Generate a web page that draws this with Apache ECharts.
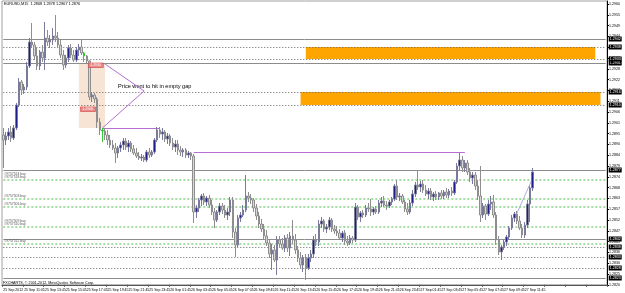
<!DOCTYPE html>
<html><head><meta charset="utf-8">
<script src="https://cdn.jsdelivr.net/npm/echarts@6/dist/echarts.min.js"></script>
<style>html,body{margin:0;padding:0;background:#fff}#c{width:625px;height:293px}</style>
</head><body><div id="c"></div>
<script>
const titleText = 'EURUSD,M15  1.2868 1.2878 1.2867 1.2876';
const copyright = 'FXCHARTS, \u00a9 2001-2012, MetaQuotes Software Corp.';
const tickLabels = ['25 Sep 2012','25 Sep 11:45','25 Sep 13:45','25 Sep 15:45','25 Sep 17:45','25 Sep 19:45','25 Sep 21:45','25 Sep 23:45','26 Sep 01:45','26 Sep 03:45','26 Sep 05:45','26 Sep 07:45','26 Sep 09:45','26 Sep 11:45','26 Sep 13:45','26 Sep 15:45','26 Sep 17:45','26 Sep 19:45','26 Sep 21:45','26 Sep 23:45','27 Sep 01:45','27 Sep 03:45','27 Sep 05:45','27 Sep 07:45','27 Sep 09:45','27 Sep 11:45'];
const totalSlots = 232;
// [open, close, low, high]
const ohlc = [
[1.28945,1.28920,1.28780,1.28980],[1.28920,1.28940,1.28895,1.28960],[1.28940,1.28960,1.28920,1.28980],[1.28960,1.28930,1.28910,1.28990],
[1.28930,1.28980,1.28920,1.28995],[1.28980,1.29095,1.28970,1.29105],[1.29095,1.29210,1.29085,1.29230],[1.29210,1.29170,1.29145,1.29220],
[1.29170,1.29185,1.29150,1.29200],[1.29185,1.29290,1.29170,1.29310],[1.29290,1.29410,1.29280,1.29430],[1.29410,1.29395,1.29380,1.29505],
[1.29395,1.29340,1.29320,1.29410],[1.29340,1.29290,1.29270,1.29380],[1.29290,1.29360,1.29270,1.29370],[1.29360,1.29330,1.29310,1.29395],
[1.29330,1.29430,1.29270,1.29510],[1.29430,1.29410,1.29390,1.29470],[1.29410,1.29420,1.29380,1.29445],[1.29420,1.29440,1.29395,1.29480],
[1.29440,1.29430,1.29410,1.29545],[1.29430,1.29395,1.29380,1.29460],[1.29395,1.29345,1.29330,1.29420],[1.29345,1.29295,1.29270,1.29370],
[1.29295,1.29330,1.29280,1.29345],[1.29330,1.29380,1.29310,1.29395],[1.29380,1.29345,1.29330,1.29400],[1.29345,1.29320,1.29310,1.29370],
[1.29320,1.29370,1.29310,1.29385],[1.29370,1.29385,1.29340,1.29400],[1.29385,1.29355,1.29345,1.29425],[1.29355,1.29340,1.29310,1.29360],
[1.29340,1.29315,1.29305,1.29345],[1.29315,1.29135,1.29120,1.29320],[1.29135,1.29145,1.29110,1.29160],[1.29145,1.29125,1.29105,1.29155],
[1.29125,1.29010,1.28980,1.29135],[1.29010,1.28970,1.28945,1.29030],[1.28970,1.28965,1.28910,1.28980],[1.28965,1.28945,1.28920,1.28980],
[1.28945,1.28920,1.28895,1.28970],[1.28920,1.28895,1.28880,1.28945],[1.28895,1.28880,1.28870,1.28920],[1.28880,1.28855,1.28805,1.28905],
[1.28855,1.28880,1.28830,1.28890],[1.28880,1.28895,1.28860,1.28910],[1.28895,1.28915,1.28870,1.28930],[1.28915,1.28885,1.28870,1.28930],
[1.28885,1.28905,1.28860,1.28920],[1.28905,1.28875,1.28860,1.28915],[1.28875,1.28855,1.28845,1.28895],[1.28855,1.28840,1.28830,1.28880],
[1.28840,1.28830,1.28820,1.28860],[1.28830,1.28835,1.28815,1.28850],[1.28835,1.28820,1.28810,1.28845],[1.28820,1.28860,1.28810,1.28870],
[1.28860,1.28845,1.28830,1.28880],[1.28845,1.28860,1.28835,1.28870],[1.28860,1.28920,1.28850,1.28930],[1.28920,1.28970,1.28910,1.28985],
[1.28970,1.28950,1.28930,1.28985],[1.28950,1.28960,1.28920,1.28980],[1.28960,1.28925,1.28910,1.28970],[1.28925,1.28940,1.28900,1.28955],
[1.28940,1.28905,1.28890,1.28950],[1.28905,1.28885,1.28870,1.28930],[1.28885,1.28900,1.28860,1.28920],[1.28900,1.28870,1.28845,1.28920],
[1.28870,1.28860,1.28840,1.28890],[1.28860,1.28870,1.28835,1.28880],[1.28870,1.28845,1.28830,1.28880],[1.28845,1.28855,1.28830,1.28865],
[1.28855,1.28840,1.28820,1.28860],[1.28840,1.28560,1.28505,1.28850],[1.28560,1.28580,1.28530,1.28595],[1.28580,1.28620,1.28560,1.28630],
[1.28620,1.28640,1.28590,1.28650],[1.28640,1.28610,1.28595,1.28655],[1.28610,1.28630,1.28590,1.28640],[1.28630,1.28595,1.28580,1.28645],
[1.28595,1.28560,1.28545,1.28620],[1.28560,1.28520,1.28480,1.28580],[1.28520,1.28560,1.28510,1.28570],[1.28560,1.28590,1.28545,1.28605],
[1.28590,1.28570,1.28550,1.28605],[1.28570,1.28545,1.28530,1.28595],[1.28545,1.28560,1.28520,1.28580],[1.28560,1.28620,1.28540,1.28635],
[1.28620,1.28460,1.28430,1.28635],[1.28460,1.28395,1.28335,1.28480],[1.28395,1.28530,1.28385,1.28545],[1.28530,1.28545,1.28510,1.28560],
[1.28545,1.28570,1.28535,1.28595],[1.28570,1.28640,1.28560,1.28745],[1.28640,1.28630,1.28610,1.28660],[1.28630,1.28620,1.28600,1.28650],
[1.28620,1.28580,1.28560,1.28630],[1.28580,1.28540,1.28520,1.28600],[1.28540,1.28500,1.28480,1.28560],[1.28500,1.28475,1.28460,1.28525],
[1.28475,1.28440,1.28420,1.28500],[1.28440,1.28405,1.28390,1.28470],[1.28405,1.28350,1.28330,1.28420],[1.28350,1.28370,1.28270,1.28400],
[1.28370,1.28320,1.28310,1.28395],[1.28320,1.28420,1.28245,1.28440],[1.28420,1.28400,1.28380,1.28440],[1.28400,1.28380,1.28370,1.28430],
[1.28380,1.28430,1.28360,1.28445],[1.28430,1.28380,1.28360,1.28450],[1.28380,1.28440,1.28340,1.28460],[1.28440,1.28420,1.28400,1.28520],
[1.28420,1.28370,1.28350,1.28450],[1.28370,1.28330,1.28310,1.28390],[1.28330,1.28295,1.28280,1.28360],[1.28295,1.28330,1.28260,1.28345],
[1.28330,1.28280,1.28220,1.28350],[1.28280,1.28330,1.28270,1.28350],[1.28330,1.28350,1.28310,1.28370],[1.28350,1.28420,1.28330,1.28440],
[1.28420,1.28410,1.28390,1.28450],[1.28410,1.28500,1.28390,1.28520],[1.28500,1.28515,1.28480,1.28535],[1.28515,1.28475,1.28460,1.28525],
[1.28475,1.28485,1.28455,1.28500],[1.28485,1.28520,1.28470,1.28535],[1.28520,1.28475,1.28460,1.28530],[1.28475,1.28465,1.28450,1.28495],
[1.28465,1.28455,1.28440,1.28490],[1.28455,1.28430,1.28420,1.28475],[1.28430,1.28455,1.28410,1.28465],[1.28455,1.28415,1.28395,1.28470],
[1.28415,1.28405,1.28390,1.28440],[1.28405,1.28430,1.28395,1.28445],[1.28430,1.28420,1.28405,1.28440],[1.28420,1.28585,1.28410,1.28605],
[1.28585,1.28535,1.28520,1.28595],[1.28535,1.28555,1.28510,1.28565],[1.28555,1.28545,1.28530,1.28570],[1.28545,1.28580,1.28535,1.28595],
[1.28580,1.28575,1.28560,1.28605],[1.28575,1.28560,1.28540,1.28625],[1.28560,1.28575,1.28545,1.28585],[1.28575,1.28560,1.28550,1.28590],
[1.28560,1.28605,1.28550,1.28620],[1.28605,1.28615,1.28585,1.28635],[1.28615,1.28595,1.28585,1.28640],[1.28595,1.28590,1.28570,1.28615],
[1.28590,1.28610,1.28580,1.28620],[1.28610,1.28625,1.28595,1.28635],[1.28625,1.28690,1.28615,1.28700],[1.28690,1.28635,1.28620,1.28720],
[1.28635,1.28640,1.28615,1.28655],[1.28640,1.28610,1.28600,1.28650],[1.28610,1.28575,1.28560,1.28620],[1.28575,1.28560,1.28545,1.28605],
[1.28560,1.28605,1.28550,1.28620],[1.28605,1.28650,1.28590,1.28670],[1.28650,1.28695,1.28635,1.28710],[1.28695,1.28685,1.28670,1.28770],
[1.28685,1.28700,1.28660,1.28715],[1.28700,1.28670,1.28655,1.28720],[1.28670,1.28650,1.28640,1.28695],[1.28650,1.28665,1.28625,1.28680],
[1.28665,1.28635,1.28620,1.28680],[1.28635,1.28650,1.28615,1.28660],[1.28650,1.28635,1.28620,1.28665],[1.28635,1.28655,1.28620,1.28660],
[1.28655,1.28640,1.28625,1.28670],[1.28640,1.28660,1.28625,1.28670],[1.28660,1.28645,1.28630,1.28680],[1.28645,1.28665,1.28630,1.28675],
[1.28665,1.28655,1.28640,1.28685],[1.28655,1.28710,1.28645,1.28720],[1.28710,1.28790,1.28700,1.28805],[1.28790,1.28820,1.28770,1.28855],
[1.28820,1.28780,1.28760,1.28840],[1.28780,1.28805,1.28760,1.28820],[1.28805,1.28760,1.28745,1.28820],[1.28760,1.28730,1.28710,1.28780],
[1.28730,1.28745,1.28700,1.28760],[1.28745,1.28690,1.28670,1.28760],[1.28690,1.28640,1.28620,1.28720],[1.28640,1.28545,1.28510,1.28790],
[1.28545,1.28590,1.28530,1.28605],[1.28590,1.28550,1.28520,1.28600],[1.28550,1.28600,1.28540,1.28620],[1.28600,1.28610,1.28570,1.28640],
[1.28610,1.28545,1.28530,1.28645],[1.28545,1.28420,1.28395,1.28560],[1.28420,1.28360,1.28345,1.28440],[1.28360,1.28385,1.28320,1.28395],
[1.28385,1.28410,1.28370,1.28420],[1.28410,1.28435,1.28390,1.28445],[1.28435,1.28480,1.28420,1.28490],[1.28480,1.28530,1.28470,1.28545],
[1.28530,1.28550,1.28510,1.28560],[1.28550,1.28515,1.28500,1.28565],[1.28515,1.28480,1.28470,1.28540],[1.28480,1.28445,1.28430,1.28500],
[1.28445,1.28495,1.28430,1.28510],[1.28495,1.28600,1.28480,1.28620],[1.28600,1.28680,1.28510,1.28690],[1.28680,1.28760,1.28665,1.28780]
];
const greenBars = [31, 38];
const solidLevels = [1.29425, 1.29305, 1.28770, 1.28425, 1.28230];
const dottedLevels = [1.29385, 1.29325, 1.29160, 1.29095, 1.28385, 1.28335, 1.28280];
const orderLevels = [1.28720, 1.28625, 1.28585, 1.28485, 1.28400];
const orderNames = ['#9757524 buy\n#9757518 buy', '#9757503 buy', '#9757506 buy', '#9757509 buy\n#9757510 buy', '#9757512 buy'];
const zones = [[116, 227, 1.29385, 1.29325], [114, 229, 1.29160, 1.29095]];
const gapBox = [29, 39, 1.29305, 1.28980];
const purpleSegs = [[39, 1.29300, 54, 1.29165], [54, 1.29165, 38, 1.28980], [38, 1.28980, 60, 1.28980], [73, 1.28860, 177, 1.28860]];
const trendSeg = [197, 1.28555, 203, 1.28730];
const noteText = 'Price went to hit in empty gap';
const noteAt = [44, 1.29185];
const priceTags = [{text: '1.2930', at: [33, 1.29305]}, {text: '1.2908', at: [30, 1.29085]}];

const categories = [];
const t0 = new Date(2012, 8, 25, 9, 45).getTime();
for (let i = 0; i < totalSlots; i++) {
  const d = new Date(t0 + i * 15 * 60000);
  categories.push(d.getDate() + ' Sep ' + String(d.getHours()).padStart(2, '0') + ':' + String(d.getMinutes()).padStart(2, '0'));
}

const FONT = 'Liberation Sans';
const lastIdx = totalSlots - 1;
const endLabel = v => ({show: true, position: 'end', distance: 3, formatter: v.toFixed(4),
  backgroundColor: '#000', color: '#fff', fontSize: 3.6, fontFamily: FONT, padding: [0.5, 1]});
const hline = (v, lineStyle, label, name) => [
  {name: name || '', coord: [0, v], lineStyle: lineStyle, label: label},
  {coord: [lastIdx, v]}
];

const levelLines = [];
solidLevels.forEach(v => levelLines.push(hline(v, {color: '#8c8c8c', type: 'solid', width: 1}, endLabel(v))));
dottedLevels.forEach(v => levelLines.push(hline(v, {color: '#666', type: [1, 2], width: 1}, endLabel(v))));
orderLevels.forEach((v, k) => levelLines.push(hline(v, {color: '#a6dca6', type: [2, 2], width: 2},
  {show: true, position: 'insideStartTop', formatter: orderNames[k], fontSize: 3.4, fontFamily: FONT, color: '#555', distance: 1, lineHeight: 3.6})));
purpleSegs.forEach(s => levelLines.push([{coord: [s[0], s[1]], lineStyle: {color: '#b56fd2', type: 'solid', width: 1}, label: {show: false}}, {coord: [s[2], s[3]]}]));
levelLines.push([{coord: [trendSeg[0], trendSeg[1]], lineStyle: {color: '#aab2dc', type: 'solid', width: 1}, label: {show: false}}, {coord: [trendSeg[2], trendSeg[3]]}]);

const areas = [
  [{xAxis: gapBox[0], yAxis: gapBox[2], itemStyle: {color: '#f8e4d4'}}, {xAxis: gapBox[1], yAxis: gapBox[3]}]
];
zones.forEach(z => areas.push([{xAxis: z[0], yAxis: z[2], itemStyle: {color: '#ffa500'}}, {xAxis: z[1], yAxis: z[3]}]));

const candleData = ohlc.map((r, i) => greenBars.includes(i)
  ? {value: r, itemStyle: {color: '#33cc33', color0: '#33cc33', borderColor: '#33cc33', borderColor0: '#33cc33'}}
  : r);

const chart = echarts.init(document.getElementById('c'), null, {renderer: 'canvas'});
chart.setOption({
  animation: false,
  backgroundColor: '#fff',
  grid: {left: 2, right: 18, top: 1, bottom: 8.2, show: true, borderColor: '#a0a0a0', borderWidth: 1},
  xAxis: {
    type: 'category', data: categories, boundaryGap: true,
    axisLine: {show: true, lineStyle: {color: '#555', width: 1}},
    axisTick: {show: true, interval: 7, length: 2, lineStyle: {color: '#555'}},
    axisLabel: {interval: 7, fontSize: 3.5, fontFamily: FONT, color: '#000', margin: 3, align: 'left',
      formatter: (v, idx) => (idx % 8 === 0 && tickLabels[idx / 8]) ? tickLabels[idx / 8] : ''},
    splitLine: {show: false}
  },
  yAxis: {
    type: 'value', position: 'right', min: 1.28196, max: 1.29615, interval: 0.00054, scale: true,
    axisLine: {show: true, lineStyle: {color: '#000', width: 1}},
    axisTick: {show: true, length: 2, lineStyle: {color: '#000'}},
    axisLabel: {fontSize: 3.6, fontFamily: FONT, color: '#000', margin: 2, showMaxLabel: false,
      formatter: v => v.toFixed(4)},
    splitLine: {show: false}
  },
  series: [
    {type: 'line', name: 'zones', data: [], z: 1, silent: true,
      markArea: {silent: true, z: 1, data: areas}},
    {type: 'candlestick', name: 'EURUSD', data: candleData, z: 6, barWidth: 2,
      itemStyle: {color: '#1c1c8c', color0: '#d6d6d6', borderColor: '#7a7a9c', borderColor0: '#8e8e8e', borderWidth: 1},
      markLine: {silent: true, z: 3, symbol: ['none', 'none'], animation: false, data: levelLines}}
  ]
});

const px = a => chart.convertToPixel({xAxisIndex: 0, yAxisIndex: 0}, a);
const gfx = [
  {type: 'text', left: 4, top: 2, style: {text: titleText, fontSize: 3.8, fontFamily: FONT, fill: '#000'}},
  {type: 'text', left: 3, top: 280.5, style: {text: copyright, fontSize: 3.7, fontFamily: FONT, fill: '#000'}}
];
const np = px(noteAt);
gfx.push({type: 'text', x: np[0], y: np[1] - 3.5, style: {text: noteText, fontSize: 5.6, fontFamily: FONT, fill: '#000'}});
priceTags.forEach(t => {
  const p = px(t.at);
  gfx.push({type: 'rect', shape: {x: p[0] - 1, y: p[1], width: 15, height: 4.5}, style: {fill: '#ea8a8a', stroke: '#d04040', lineWidth: 0.6}, z: 10});
  gfx.push({type: 'text', x: p[0] + 1, y: p[1] + 0.6, style: {text: t.text, fontSize: 3.4, fontFamily: FONT, fill: '#fff'}, z: 11});
});
chart.setOption({graphic: gfx});
</script></body></html>
